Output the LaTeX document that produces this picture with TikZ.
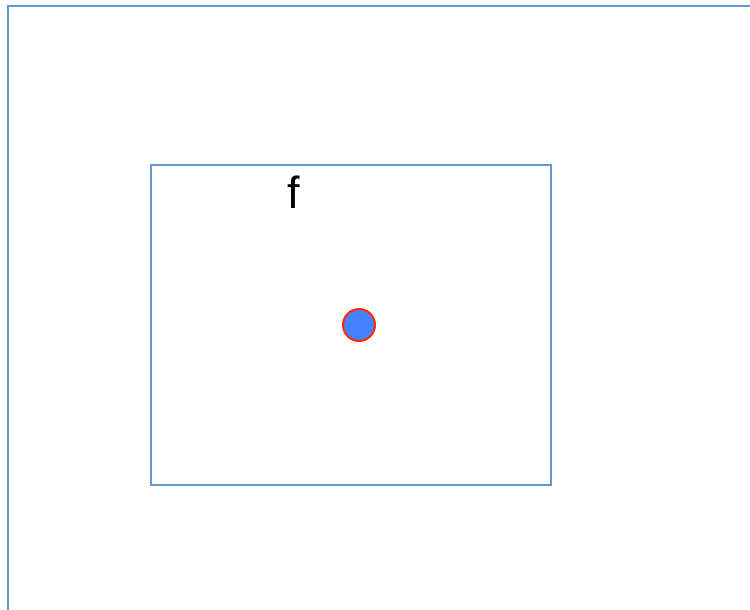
\documentclass[tikz,border=0pt]{standalone}
\usepackage{fontspec}
\setmainfont{Liberation Sans}
\usepackage{xcolor}
\definecolor{framecol}{RGB}{99,153,208}
\definecolor{dotfill}{RGB}{69,130,255}
\definecolor{dotline}{RGB}{255,42,0}
\usetikzlibrary{positioning}

\begin{document}
\begin{tikzpicture}[
    x=1pt, y=-1pt,
    frame/.style={rectangle, draw=framecol, line width=1.8pt, inner sep=0pt},
    dot/.style={circle, draw=dotline, fill=dotfill, line width=2pt, minimum size=32pt, inner sep=0pt},
    label/.style={font=\fontsize{45}{45}\selectfont, inner sep=0pt}
]
\useasboundingbox (0,0) rectangle (750,610);
\node[frame, line width=2pt, minimum width=780pt, minimum height=640pt, anchor=north west] (outer) at (7,5) {};
\node[frame, minimum width=400pt, minimum height=320pt] (inner) at (351,325) {};
\node[label] (f) at (294,192) {f};
\node[dot] (point) at (359,325) {};
\end{tikzpicture}
\end{document}
